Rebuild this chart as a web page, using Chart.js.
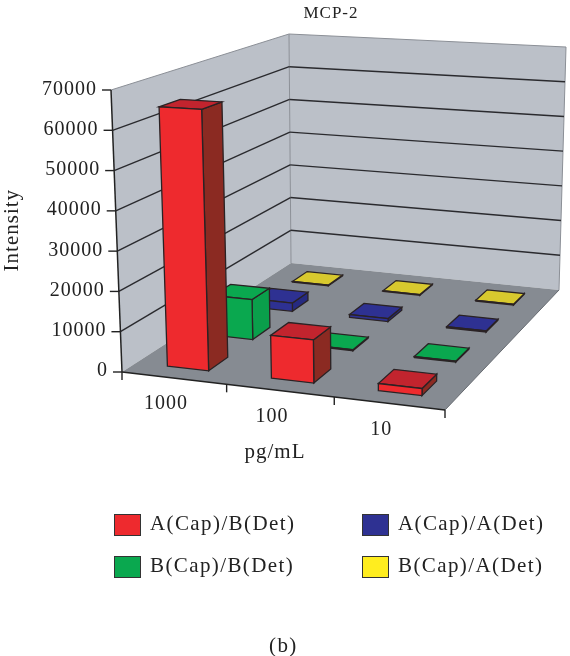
<!DOCTYPE html>
<html>
<head>
<meta charset="utf-8">
<script src="https://cdn.jsdelivr.net/npm/chart.js@4"></script>
<style>
    body { margin: 0; background: #fff; }
    #wrap { position: relative; width: 570px; height: 656px; overflow: hidden; }
    #wrap div { position: absolute; font: 21px "Liberation Serif", serif; letter-spacing: 1.4px; color: #222; white-space: nowrap; }
    .swatch { width: 25px; height: 20px; border: 1px solid #333; }
</style>
</head>
<body>
<div id="wrap"><canvas id="mcpChart" width="570" height="656"></canvas></div>
<script>
const categories = ['1000', '100', '10'];
const seriesNames = ['A(Cap)/B(Det)', 'B(Cap)/B(Det)', 'A(Cap)/A(Det)', 'B(Cap)/A(Det)'];
const capBDet = [65000, 10500, 1700];
const capBDetB = [10500, 250, 250];
const capADet = [2300, 800, 300];
const capBDetA = [200, 200, 200];
const seriesValues = [capBDet, capBDetB, capADet, capBDetA];

const frontColors = ['#ee2a2e', '#0aa84f', '#2e3192', '#d8c92e'];
const topColors = ['#c2242e', '#0aa84f', '#2e3192', '#d8c92e'];
const sideColors = ['#8b2a22', '#0a9f4b', '#262a80', '#b8aa28'];
const legendColors = ['#ee2a2e', '#0aa84f', '#2e3192', '#ffed1f'];

// corners of the plot box: front left, front right, back right, back left
const floorCorners = [[122, 372], [445, 410], [559, 290], [291, 263]];
const roofCorners = [[111, 90], [450, 110], [566, 47], [289, 34]];

function homography(p) {
    const dx1 = p[1][0] - p[2][0], dx2 = p[3][0] - p[2][0], dx3 = p[0][0] - p[1][0] + p[2][0] - p[3][0];
    const dy1 = p[1][1] - p[2][1], dy2 = p[3][1] - p[2][1], dy3 = p[0][1] - p[1][1] + p[2][1] - p[3][1];
    const den = dx1 * dy2 - dx2 * dy1;
    const g = (dx3 * dy2 - dx2 * dy3) / den;
    const h = (dx1 * dy3 - dx3 * dy1) / den;
    const a = p[1][0] - p[0][0] + g * p[1][0], b = p[3][0] - p[0][0] + h * p[3][0];
    const d = p[1][1] - p[0][1] + g * p[1][1], e = p[3][1] - p[0][1] + h * p[3][1];
    return function(u, v) {
        const w = g * u + h * v + 1;
        return [(a * u + b * v + p[0][0]) / w, (d * u + e * v + p[0][1]) / w];
    };
}

const floorAt = homography(floorCorners);
const roofAt = homography(roofCorners);

// u along categories, v into the depth, t = share of the value axis
function project(u, v, t) {
    const f = floorAt(u, v), r = roofAt(u, v);
    return [f[0] + (r[0] - f[0]) * t, f[1] + (r[1] - f[1]) * t];
}

function poly(ctx, pts, fill, stroke, lw) {
    ctx.beginPath();
    pts.forEach(function(p, i) { i ? ctx.lineTo(p[0], p[1]) : ctx.moveTo(p[0], p[1]); });
    ctx.closePath();
    if (fill) { ctx.fillStyle = fill; ctx.fill(); }
    if (stroke) { ctx.strokeStyle = stroke; ctx.lineWidth = lw; ctx.stroke(); }
}

function line(ctx, a, b, color, lw) {
    ctx.beginPath();
    ctx.moveTo(a[0], a[1]);
    ctx.lineTo(b[0], b[1]);
    ctx.strokeStyle = color;
    ctx.lineWidth = lw;
    ctx.stroke();
}

const box3d = {
    id: 'box3d',
    afterLayout(chart) {
        const xs = chart.scales.x, ys = chart.scales.y;
        chart.titleBlock.left = 92;
        chart.titleBlock.right = 570;

        // tick labels follow the slanted axes
        ys.getLabelItems(chart.chartArea).forEach(function(item, i) {
            const t = ys.getDecimalForPixel(ys.getPixelForTick(i));
            item.options.translation[0] = project(0, 0, t)[0] - 14;
        });
        ys.right = 130; // the scale clips its labels to this edge
        xs.getLabelItems(chart.chartArea).forEach(function(item, i) {
            const u = (xs.getPixelForTick(i) - xs.left) / xs.width;
            const p = project(u, 0, 0);
            item.options.translation[0] = p[0] - 8;
            item.options.translation[1] = p[1] + 14;
        });
    },
    beforeDraw(chart) {
        const ctx = chart.ctx, ys = chart.scales.y;
        const wallEdge = '#8b8f96';
        ctx.letterSpacing = '1px';
        poly(ctx, [project(0, 0, 0), project(0, 1, 0), project(0, 1, 1), project(0, 0, 1)], '#bbc0c8');
        poly(ctx, [project(0, 1, 0), project(1, 1, 0), project(1, 1, 1), project(0, 1, 1)], '#bbc0c8');
        poly(ctx, [project(0, 0, 0), project(1, 0, 0), project(1, 1, 0), project(0, 1, 0)], '#868b92');
        line(ctx, project(0, 1, 0), project(0, 1, 1), wallEdge, 1);
        line(ctx, project(1, 1, 0), project(1, 1, 1), wallEdge, 1);
        line(ctx, project(0, 0, 1), project(0, 1, 1), wallEdge, 1);
        line(ctx, project(0, 1, 1), project(1, 1, 1), wallEdge, 1);
        line(ctx, project(1, 0, 0), project(1, 1, 0), '#666a70', 1);

        ys.ticks.forEach(function(tick, i) {
            const t = ys.getDecimalForPixel(ys.getPixelForTick(i));
            const p = project(0, 0, t);
            line(ctx, [p[0] - 9, p[1]], p, '#222', 1.4);
            if (t > 0 && t < 1) {
                ctx.lineJoin = 'round';
                line(ctx, p, project(0, 1, t), '#2a2a2e', 1.4);
                line(ctx, project(0, 1, t), project(1, 1, t), '#2a2a2e', 1.4);
            }
        });

        line(ctx, project(0, 0, 0), project(0, 0, 1), '#222', 1.5);
        line(ctx, project(0, 0, 0), project(1, 0, 0), '#222', 1.6);
        [0, 1 / 3, 2 / 3, 1].forEach(function(u) {
            const p = project(u, 0, 0);
            line(ctx, p, [p[0], p[1] + 8], '#222', 1.4);
        });
    },
    beforeDatasetsDraw(chart) {
        const ctx = chart.ctx, area = chart.chartArea;
        const count = chart.data.datasets.length;
        ctx.lineJoin = 'miter';
        for (let k = count - 1; k >= 0; k--) {
            const meta = chart.getDatasetMeta(k);
            meta.data.forEach(function(el) {
                const u0 = (el.x - el.width / 2 - area.left) / area.width;
                const u1 = (el.x + el.width / 2 - area.left) / area.width;
                const v0 = (k + 0.5 - 0.21) / count;
                const v1 = (k + 0.5 + 0.21) / count;
                const t = (el.base - el.y) / area.height;
                poly(ctx, [project(u1, v0, 0), project(u1, v1, 0), project(u1, v1, t), project(u1, v0, t)], sideColors[k], '#2a2224', 1.3);
                poly(ctx, [project(u0, v0, t), project(u1, v0, t), project(u1, v1, t), project(u0, v1, t)], topColors[k], '#2a2224', 1.3);
                poly(ctx, [project(u0, v0, 0), project(u1, v0, 0), project(u1, v0, t), project(u0, v0, t)], frontColors[k], '#2a2224', 1.3);
            });
        }
        return false;
    }
};

const tickFont = { family: '"Liberation Serif", serif', size: 20 };
const titleFont = { family: '"Liberation Serif", serif', size: 21 };

new Chart(document.getElementById('mcpChart'), {
    type: 'bar',
    data: {
        labels: categories,
        datasets: seriesNames.map(function(name, i) {
            return { label: name, data: seriesValues[i], backgroundColor: frontColors[i], grouped: false, barPercentage: 0.4, categoryPercentage: 1 };
        })
    },
    options: {
        responsive: false,
        animation: false,
        layout: { padding: { right: 125, bottom: 191 } },
        plugins: {
            legend: { display: false },
            tooltip: { enabled: false },
            title: {
                display: true,
                text: 'MCP-2',
                color: '#222',
                font: { family: tickFont.family, size: 17, weight: 'normal' },
                padding: { top: 3, bottom: 66 }
            }
        },
        scales: {
            x: {
                grid: { display: false },
                border: { display: false },
                ticks: { color: '#222', font: tickFont, maxRotation: 0, autoSkip: false },
                title: { display: true, text: 'pg/mL', color: '#222', font: titleFont, padding: 0 },
                afterFit: function(s) { s.height = 94; }
            },
            y: {
                min: 0,
                max: 70000,
                grid: { display: false },
                border: { display: false },
                ticks: { stepSize: 10000, color: '#222', font: tickFont, callback: function(v) { return String(v); } },
                title: { display: true, text: 'Intensity', color: '#222', font: titleFont, padding: 0 },
                afterFit: function(s) { s.width = 105; }
            }
        }
    },
    plugins: [box3d]
});

// legend
const wrap = document.getElementById('wrap');
const legendSlots = [[114, 514], [114, 556], [362, 514], [362, 556]];
seriesNames.forEach(function(name, i) {
    const box = document.createElement('div');
    box.className = 'swatch';
    box.style.cssText = 'left:' + legendSlots[i][0] + 'px;top:' + legendSlots[i][1] + 'px;background:' + legendColors[i];
    wrap.appendChild(box);
    const label = document.createElement('div');
    label.textContent = name;
    label.style.left = (legendSlots[i][0] + 36) + 'px';
    label.style.top = (legendSlots[i][1] - 3) + 'px';
    wrap.appendChild(label);
});
const caption = document.createElement('div');
caption.textContent = '(b)';
caption.style.cssText = 'left:269px;top:633px';
wrap.appendChild(caption);
</script>
</body>
</html>
